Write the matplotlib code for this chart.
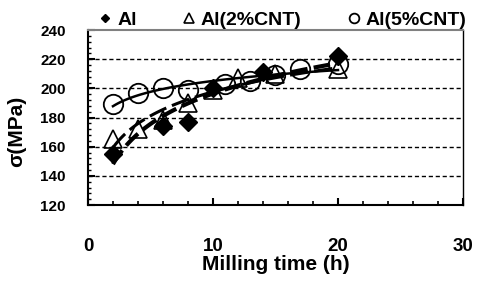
import numpy as np
import matplotlib.pyplot as plt

plt.rcParams['font.family'] = ['Liberation Sans', 'DejaVu Sans']
plt.rcParams['font.weight'] = 'bold'

# milling time (h) and strength (MPa)
al_t = [2, 6, 8, 10, 14, 20]
al_s = [155, 174, 177, 200, 211, 222]
cnt2_t = [2, 4, 6, 8, 10, 12, 15, 20]
cnt2_s = [165, 172, 178, 190, 199, 207, 210, 213]
cnt5_t = [2, 4, 6, 8, 11, 13, 15, 17, 20]
cnt5_s = [189, 197, 200, 199, 203, 205, 209, 213, 217]


def log_fit(t, s):
    a, b = np.polyfit(np.log(t), s, 1)
    xx = np.linspace(min(t), max(t), 100)
    return xx, a * np.log(xx) + b


fig = plt.figure(figsize=(4.79, 2.82), dpi=100)
ax = fig.add_axes([0.1837, 0.273, 0.7829, 0.6206])

ax.plot(al_t, al_s, 'D', color='black', ms=9, label='Al', zorder=3)
ax.plot(cnt2_t, cnt2_s, '^', mfc='none', mec='black', mew=1.2, ms=13,
        label='Al(2%CNT)', zorder=3)
ax.plot(cnt5_t, cnt5_s, 'o', mfc='none', mec='black', mew=1.3, ms=14,
        label='Al(5%CNT)', zorder=3)

xx, yy = log_fit(al_t, al_s)
ax.plot(xx, yy, '--', color='black', lw=3, dashes=(4, 1.5), zorder=4)
xx, yy = log_fit(cnt2_t, cnt2_s)
ax.plot(xx, yy, '--', color='black', lw=2.2, dashes=(6, 2), zorder=4)
xx, yy = log_fit(cnt5_t, cnt5_s)
ax.plot(xx, yy, '-', color='black', lw=1.8, zorder=4)

ax.set_xlim(0, 30)
ax.set_ylim(120, 240)
ax.set_xticks([0, 10, 20, 30])
ax.set_xticks(range(0, 31, 2), minor=True)
ax.set_yticks(range(120, 241, 20))
ax.set_yticks(range(120, 241, 4), minor=True)
for y in [140, 160, 180, 200, 220]:
    ax.axhline(y, color='black', ls='--', lw=1, dashes=(3, 2), zorder=1)

ax.tick_params(axis='x', which='major', direction='in', length=5, width=1.5,
               pad=24, labelsize=13.5)
ax.tick_params(axis='x', which='minor', direction='in', length=3, width=1.2)
ax.tick_params(axis='y', which='major', direction='in', length=5, width=1.5,
               pad=16, labelsize=11)
ax.tick_params(axis='y', which='minor', direction='in', length=2.5, width=1)
for lab in ax.get_xticklabels() + ax.get_yticklabels():
    lab.set_fontweight('bold')

ax.spines['left'].set_linewidth(1.5)
ax.spines['bottom'].set_linewidth(1.5)
ax.spines['right'].set_linewidth(1)
ax.spines['top'].set_color('gray')
ax.spines['top'].set_linewidth(1.5)

ax.set_xlabel('Milling time (h)', fontsize=15, fontweight='bold', labelpad=0)
ax.set_ylabel('\u03c3(MPa)', fontsize=15, fontweight='bold')
ax.yaxis.set_label_coords(-0.165, 0.42)

leg = ax.legend(loc='lower center', bbox_to_anchor=(0.52, 0.95), ncol=3,
                frameon=False, fontsize=14, markerscale=0.5,
                handlelength=0.6, handletextpad=0.3, columnspacing=2.4,
                borderpad=0)
for t in leg.get_texts():
    t.set_fontweight('bold')

plt.savefig('out.png', dpi=100)
